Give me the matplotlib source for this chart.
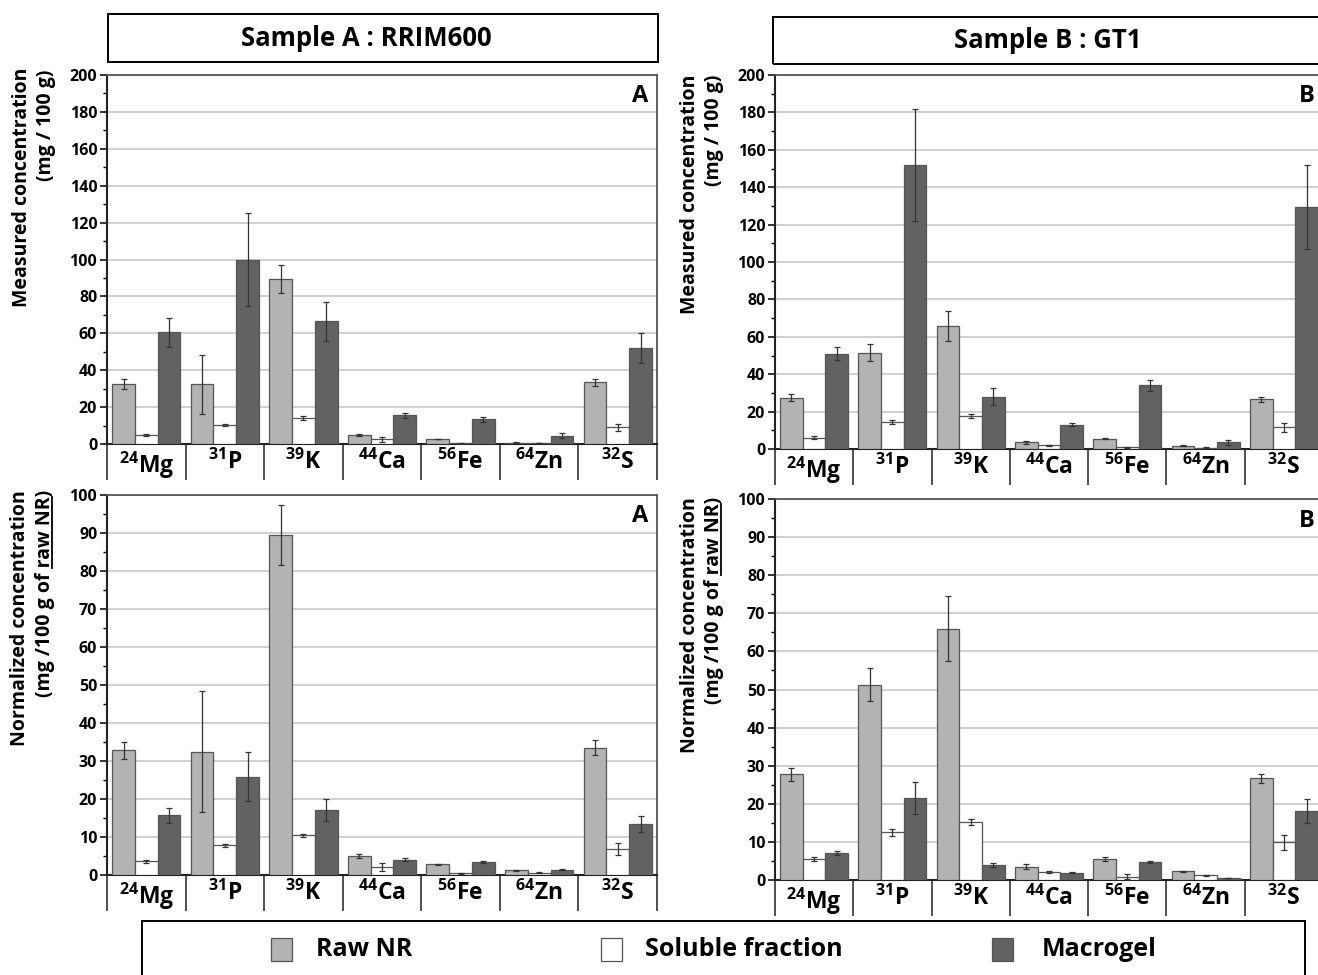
import numpy as np
import matplotlib
matplotlib.use("Agg")
import matplotlib.pyplot as plt
from matplotlib.patches import Rectangle
from matplotlib.lines import Line2D
from matplotlib.ticker import MultipleLocator

plt.rcParams['font.family'] = ['Open Sans', 'DejaVu Sans']
plt.rcParams['font.weight'] = 'bold'
plt.rcParams['mathtext.fontset'] = 'custom'
plt.rcParams['mathtext.rm'] = 'Open Sans:bold'
plt.rcParams['mathtext.it'] = 'Open Sans:bold'
plt.rcParams['mathtext.bf'] = 'Open Sans:bold'

# ---- data ----
elements = ["Mg", "P", "K", "Ca", "Fe", "Zn", "S"]
isotopes = ["24", "31", "39", "44", "56", "64", "32"]
series = ["Raw NR", "Soluble fraction", "Macrogel"]

# measured concentration, sample A (RRIM600)
meas_a_raw = [32.5, 32.5, 89.5, 5.0, 2.7, 0.8, 33.5]
meas_a_raw_err = [2.5, 16.0, 7.5, 0.6, 0.1, 0.1, 2.0]
meas_a_sol = [5.0, 10.2, 14.0, 2.5, 0.3, 0.6, 9.0]
meas_a_sol_err = [0.5, 0.5, 1.0, 1.5, 0.1, 0.1, 2.0]
meas_a_mac = [60.5, 100.0, 66.5, 15.5, 13.3, 4.5, 52.0]
meas_a_mac_err = [8.0, 25.0, 10.5, 1.5, 1.2, 1.2, 8.0]

# measured concentration, sample B (GT1)
meas_b_raw = [27.5, 51.5, 66.0, 3.5, 5.5, 1.8, 26.5]
meas_b_raw_err = [2.0, 4.5, 8.0, 0.6, 0.4, 0.1, 1.3]
meas_b_sol = [6.0, 14.5, 17.5, 2.0, 1.0, 0.8, 11.5]
meas_b_sol_err = [0.7, 1.0, 1.0, 0.3, 0.3, 0.2, 2.5]
meas_b_mac = [51.0, 152.0, 28.0, 13.0, 34.0, 3.5, 129.5]
meas_b_mac_err = [3.5, 30.0, 4.5, 0.8, 3.0, 1.5, 22.5]

# normalized concentration, sample A
norm_a_raw = [32.8, 32.5, 89.5, 5.0, 2.8, 1.2, 33.5]
norm_a_raw_err = [2.3, 16.0, 8.0, 0.6, 0.1, 0.1, 2.0]
norm_a_sol = [3.6, 7.8, 10.4, 2.1, 0.4, 0.6, 6.8]
norm_a_sol_err = [0.4, 0.3, 0.5, 1.0, 0.1, 0.1, 1.5]
norm_a_mac = [15.7, 25.9, 17.1, 4.0, 3.5, 1.4, 13.4]
norm_a_mac_err = [2.0, 6.5, 2.8, 0.4, 0.3, 0.2, 2.0]

# normalized concentration, sample B
norm_b_raw = [27.7, 51.3, 66.0, 3.5, 5.5, 2.3, 26.7]
norm_b_raw_err = [1.7, 4.3, 8.5, 0.7, 0.5, 0.1, 1.2]
norm_b_sol = [5.5, 12.5, 15.2, 2.1, 0.9, 1.2, 9.9]
norm_b_sol_err = [0.6, 1.0, 0.7, 0.3, 0.7, 0.2, 2.0]
norm_b_mac = [7.1, 21.4, 4.0, 1.9, 4.8, 0.5, 18.1]
norm_b_mac_err = [0.5, 4.2, 0.5, 0.1, 0.3, 0.1, 3.2]

colors = ["#b3b3b3", "#ffffff", "#626262"]
W, H = 1318, 975


def fx(px):
    return px / W


def fy(py):
    return 1 - py / H


def add_axes(left, top, right, bottom):
    return fig.add_axes([fx(left), fy(bottom), (right - left) / W, (bottom - top) / H])


def draw_panel(ax, vals, errs, ymax, major, letter):
    x = np.arange(len(elements))
    offsets = [-0.29, 0.0, 0.29]
    for i in range(3):
        ax.bar(x + offsets[i], vals[i], width=0.29, color=colors[i],
               edgecolor="#555555", linewidth=0.9, yerr=errs[i], zorder=3,
               error_kw=dict(ecolor="#333333", elinewidth=0.9, capsize=2.2, capthick=0.9, zorder=4))
    ax.set_xlim(-0.5, 6.5)
    ax.set_ylim(0, ymax)
    ax.yaxis.set_major_locator(MultipleLocator(major))
    ax.yaxis.set_minor_locator(MultipleLocator(major / 2))
    ax.grid(axis="y", which="major", color="#c4c4c4", lw=1.1, zorder=0)
    ax.set_axisbelow(True)
    ax.set_xticks(np.arange(-0.5, 7, 1))
    ax.set_xticklabels([])
    ax.set_xticks(x, labels=[f"$^{{{iso}}}$" + el for iso, el in zip(isotopes, elements)], minor=True)
    ax.tick_params(axis="x", which="major", length=26, width=1.2, color="#333333")
    ax.tick_params(axis="x", which="minor", length=0, pad=4, labelsize=16.5)
    ax.tick_params(axis="y", which="major", length=5, width=1.1, labelsize=11.5, pad=2)
    ax.tick_params(axis="y", which="minor", length=3, width=1.0)
    for s in ["left", "bottom"]:
        ax.spines[s].set_linewidth(1.5)
        ax.spines[s].set_color("#222222")
    for s in ["top", "right"]:
        ax.spines[s].set_linewidth(1.3)
        ax.spines[s].set_color("#555555")
    ax.text(0.985, 0.975, letter, transform=ax.transAxes, ha="right", va="top",
            fontsize=17, fontweight="bold")


def underline_tail(txt, tail, suffix):
    r = fig.canvas.get_renderer()
    prop = txt.get_fontproperties()
    bb = txt.get_window_extent(r)
    w_full, _, d = r.get_text_width_height_descent(txt.get_text(), prop, ismath=False)
    w_tail, _, _ = r.get_text_width_height_descent(tail + suffix, prop, ismath=False)
    w_suf, _, _ = r.get_text_width_height_descent(suffix, prop, ismath=False)
    y0 = bb.y1 - w_tail
    y1 = bb.y1 - w_suf
    xl = bb.x1 - d * 0.55
    inv = fig.transFigure.inverted()
    (a0, b0), (a1, b1) = inv.transform([(xl, y0), (xl, y1)])
    fig.add_artist(Line2D([a0, a1], [b0, b1], transform=fig.transFigure, color="black", lw=1.3))


fig = plt.figure(figsize=(W / 100, H / 100), dpi=100)

ax_ma = add_axes(107, 75, 657, 444)
ax_mb = add_axes(775, 75, 1323, 449)
ax_na = add_axes(107, 495, 657, 875)
ax_nb = add_axes(775, 499, 1323, 880)

draw_panel(ax_ma, [meas_a_raw, meas_a_sol, meas_a_mac],
           [meas_a_raw_err, meas_a_sol_err, meas_a_mac_err], 200, 20, "A")
draw_panel(ax_mb, [meas_b_raw, meas_b_sol, meas_b_mac],
           [meas_b_raw_err, meas_b_sol_err, meas_b_mac_err], 200, 20, "B")
draw_panel(ax_na, [norm_a_raw, norm_a_sol, norm_a_mac],
           [norm_a_raw_err, norm_a_sol_err, norm_a_mac_err], 100, 10, "A")
draw_panel(ax_nb, [norm_b_raw, norm_b_sol, norm_b_mac],
           [norm_b_raw_err, norm_b_sol_err, norm_b_mac_err], 100, 10, "B")

# y labels
lab_kw = dict(rotation=90, ha="center", va="top", fontsize=14, fontweight="bold")
fig.text(fx(22), fy(68), "Measured concentration", **lab_kw)
fig.text(fx(46), fy(70), "(mg / 100 g)", **lab_kw)
fig.text(fx(690), fy(75), "Measured concentration", **lab_kw)
fig.text(fx(714), fy(75), "(mg / 100 g)", **lab_kw)
fig.text(fx(20), fy(490), "Normalized concentration", **lab_kw)
t_na = fig.text(fx(45), fy(490), "(mg /100 g of raw NR)", **lab_kw)
fig.text(fx(690), fy(497), "Normalized concentration", **lab_kw)
t_nb = fig.text(fx(714), fy(497), "(mg /100 g of raw NR)", **lab_kw)

# sample title boxes
fig.add_artist(Rectangle((fx(108), fy(62)), (658 - 108) / W, 48 / H, transform=fig.transFigure,
                         fill=False, edgecolor="black", lw=1.4))
fig.text(fx(366), fy(39), "Sample A : RRIM600", ha="center", va="center", fontsize=18.5, fontweight="bold")
fig.add_artist(Rectangle((fx(773), fy(64)), (1345 - 773) / W, 47 / H, transform=fig.transFigure,
                         fill=False, edgecolor="black", lw=1.4))
fig.text(fx(1048), fy(41), "Sample B : GT1", ha="center", va="center", fontsize=18.5, fontweight="bold")

# legend box
fig.add_artist(Rectangle((fx(142), fy(990)), (1305 - 142) / W, 69 / H, transform=fig.transFigure,
                         fill=False, edgecolor="black", lw=1.4))
legend_sq_x = [271, 601, 992]
legend_tx_x = [316, 645, 1042]
for name, c, sx, tx in zip(series, colors, legend_sq_x, legend_tx_x):
    fig.add_artist(Rectangle((fx(sx), fy(961)), 21 / W, 23 / H, transform=fig.transFigure,
                             facecolor=c, edgecolor="#555555", lw=0.9))
    fig.text(fx(tx), fy(949), name, ha="left", va="center", fontsize=18, fontweight="bold")

fig.canvas.draw()
underline_tail(t_na, "raw NR", ")")
underline_tail(t_nb, "raw NR", ")")

fig.savefig("out.png", dpi=100)
